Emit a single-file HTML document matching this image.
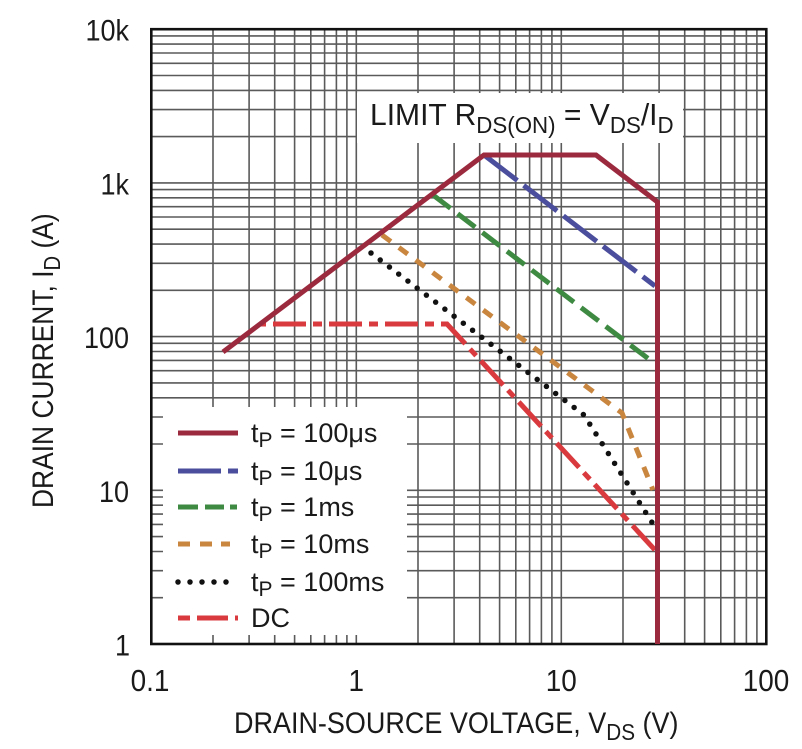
<!DOCTYPE html>
<html>
<head>
<meta charset="utf-8">
<style>
html,body{margin:0;padding:0;background:#fff;}
svg{display:block;}
text{font-family:"Liberation Sans",Arial,sans-serif;fill:#1a1a1a;}
</style>
</head>
<body>
<svg width="802" height="749" viewBox="0 0 802 749" xmlns="http://www.w3.org/2000/svg">
<rect width="802" height="749" fill="#fff"/>
<!-- grid -->
<g stroke="#5a5a5a" stroke-width="1.6" fill="none">
<path d="M213,29.2V644M249.1,29.2V644M274.7,29.2V644M294.6,29.2V644M310.8,29.2V644M324.6,29.2V644M336.4,29.2V644M346.9,29.2V644M356.3,29.2V644
M418,29.2V644M454.1,29.2V644M479.7,29.2V644M499.6,29.2V644M515.8,29.2V644M529.6,29.2V644M541.4,29.2V644M551.9,29.2V644M561.3,29.2V644
M623,29.2V644M659.1,29.2V644M684.7,29.2V644M704.6,29.2V644M720.8,29.2V644M734.6,29.2V644M746.4,29.2V644M756.9,29.2V644"/>
<path d="M151.3,597.7H766.3M151.3,570.7H766.3M151.3,551.5H766.3M151.3,536.6H766.3M151.3,524.4H766.3M151.3,514.1H766.3M151.3,505.2H766.3M151.3,497H766.3M151.3,490.3H766.3
M151.3,444H766.3M151.3,417H766.3M151.3,397.8H766.3M151.3,382.9H766.3M151.3,370.7H766.3M151.3,360.4H766.3M151.3,351.5H766.3M151.3,343.3H766.3M151.3,336.6H766.3
M151.3,290.3H766.3M151.3,263.3H766.3M151.3,244.1H766.3M151.3,229.2H766.3M151.3,217H766.3M151.3,206.7H766.3M151.3,197.8H766.3M151.3,189.6H766.3M151.3,182.9H766.3
M151.3,136.6H766.3M151.3,109.6H766.3M151.3,90.4H766.3M151.3,75.5H766.3M151.3,63.3H766.3M151.3,53H766.3M151.3,44.1H766.3M151.3,35.9H766.3"/>
</g>
<!-- white boxes -->
<rect x="163" y="407" width="244" height="228" fill="#fff"/>
<rect x="357" y="93" width="326" height="50" fill="#fff"/>
<!-- frame -->
<rect x="151.3" y="29.2" width="615" height="614.8" fill="none" stroke="#111" stroke-width="2.6"/>

<!-- curves -->
<g fill="none" stroke-width="5" stroke-linejoin="miter">
<polyline points="433,195 650,360" stroke="#3f8a43" stroke-dasharray="22 9"/>
<polyline points="484,155 655,286" stroke="#4b4e9c" stroke-dasharray="42 8"/>
<polyline points="382,235 622,413 653,490" stroke="#c9863f" stroke-dasharray="11 10"/>
<polyline points="371,253 584,415 653,524" stroke="#111" stroke-width="5.5" stroke-linecap="round" stroke-dasharray="0 11.6"/>
<polyline points="260,324 447,324 655,550" stroke="#d93a3e" stroke-dasharray="6 7 33 7 9 7 33 7 9 7 33 7 9 7 33 7 9 7 33 7 9 7 33 7 9 7 33 7 9 7 33 7 9 7 33 7 9 7"/>
<polyline points="223,352 484,155 596,155 657.5,202 657.5,644" stroke="#9c2a3f" stroke-width="5"/>
</g>

<!-- legend samples -->
<g fill="none" stroke-width="5">
<line x1="178" y1="433" x2="238" y2="433" stroke="#9c2a3f"/>
<line x1="178" y1="471" x2="221" y2="471" stroke="#4b4e9c"/>
<line x1="228" y1="471" x2="238" y2="471" stroke="#4b4e9c"/>
<line x1="178" y1="507" x2="198" y2="507" stroke="#3f8a43"/>
<line x1="205" y1="507" x2="224" y2="507" stroke="#3f8a43"/>
<line x1="230" y1="507" x2="237" y2="507" stroke="#3f8a43"/>
<line x1="178" y1="544" x2="190" y2="544" stroke="#c9863f"/>
<line x1="200" y1="544" x2="212" y2="544" stroke="#c9863f"/>
<line x1="221" y1="544" x2="230" y2="544" stroke="#c9863f"/>
<line x1="178" y1="582" x2="238" y2="582" stroke="#111" stroke-width="5.5" stroke-linecap="round" stroke-dasharray="0 12"/>
<line x1="178" y1="618" x2="190" y2="618" stroke="#d93a3e"/>
<line x1="197" y1="618" x2="228" y2="618" stroke="#d93a3e"/>
<line x1="235" y1="618" x2="238" y2="618" stroke="#d93a3e"/>
</g>

<!-- legend text -->
<g font-size="27">
<text x="251" y="442">t<tspan font-size="21" dy="5">P</tspan><tspan dy="-5"> = 100μs</tspan></text>
<text x="251" y="480">t<tspan font-size="21" dy="5">P</tspan><tspan dy="-5"> = 10μs</tspan></text>
<text x="251" y="516">t<tspan font-size="21" dy="5">P</tspan><tspan dy="-5"> = 1ms</tspan></text>
<text x="251" y="553">t<tspan font-size="21" dy="5">P</tspan><tspan dy="-5"> = 10ms</tspan></text>
<text x="251" y="591">t<tspan font-size="21" dy="5">P</tspan><tspan dy="-5"> = 100ms</tspan></text>
<text x="251" y="627">DC</text>
</g>

<!-- LIMIT label -->
<text transform="translate(370,125) scale(0.97,1)" font-size="31">LIMIT R<tspan font-size="23" dy="8">DS(ON)</tspan><tspan dy="-8"> = V</tspan><tspan font-size="23" dy="8">DS</tspan><tspan dy="-8">/I</tspan><tspan font-size="23" dy="8">D</tspan></text>

<!-- Y tick labels -->
<g font-size="30" text-anchor="end">
<text transform="translate(129,40.7) scale(0.9,1)">10k</text>
<text transform="translate(129,194.4) scale(0.9,1)">1k</text>
<text transform="translate(129,348.1) scale(0.9,1)">100</text>
<text transform="translate(129,501.8) scale(0.9,1)">10</text>
<text transform="translate(130,655.5) scale(0.9,1)">1</text>
</g>

<!-- X tick labels -->
<g font-size="31" text-anchor="middle">
<text transform="translate(150,691) scale(0.9,1)">0.1</text>
<text transform="translate(356.3,691) scale(0.9,1)">1</text>
<text transform="translate(561.3,691) scale(0.9,1)">10</text>
<text transform="translate(766,691) scale(0.9,1)">100</text>
</g>

<!-- X title -->
<text transform="translate(234,733) scale(0.9,1)" font-size="30">DRAIN-SOURCE VOLTAGE, V<tspan font-size="23" dy="7">DS</tspan><tspan dy="-7"> (V)</tspan></text>

<!-- Y title -->
<text transform="translate(53,508) rotate(-90) scale(0.88,1)" font-size="30">DRAIN CURRENT, I<tspan font-size="23" dy="7">D</tspan><tspan dy="-7"> (A)</tspan></text>
</svg>
</body>
</html>
